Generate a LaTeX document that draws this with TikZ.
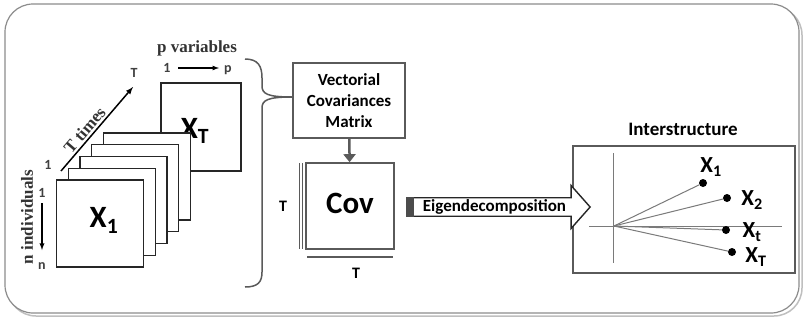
\documentclass[tikz,border=0pt]{standalone}
\usepackage{fontspec}
\setmainfont{Liberation Serif}
\setsansfont{Carlito}
\usepackage{tikz}
\usetikzlibrary{arrows.meta,shapes.arrows}
\definecolor{framegray}{HTML}{8C8C8C}
\definecolor{boxgray}{HTML}{5A5A5A}
\definecolor{axisgray}{HTML}{7A7A7A}

\begin{document}
\begin{tikzpicture}[x=1pt, y=-1pt, >=latex,
  frame/.style={draw=black!85, line width=1.4pt, fill=white, minimum width=87pt, minimum height=87pt, inner sep=0pt},
  box/.style={draw=boxgray, line width=1.6pt, fill=white, align=center, inner sep=0pt},
  small/.style={font=\sffamily\bfseries\fontsize{14}{16}\selectfont, text=black!75},
  serif/.style={font=\bfseries\fontsize{17}{20}\selectfont, text=black!80},
  big/.style={font=\sffamily\bfseries\fontsize{31}{34}\selectfont},
  pt/.style={circle, fill=black, inner sep=0pt, minimum size=8pt},
  xlab/.style={font=\sffamily\bfseries\fontsize{23}{26}\selectfont, inner sep=0pt}]
\useasboundingbox (0,0) rectangle (807,322);

% outer panel
\draw[rounded corners=28pt, black!25, line width=1.5pt] (8,7) rectangle (802,316);
\draw[rounded corners=28pt, framegray, line width=1.2pt, fill=white] (5,4) rectangle (799,313);

% stack of matrices
\node[frame, minimum width=80pt, minimum height=88pt] (xT) at (201,127) {};
\node[big] at ([xshift=-6pt,yshift=-4pt]xT.center) {X\textsubscript{T}};
\foreach \i in {4,3,2,1}
  \node[frame] (f\i) at ({100+11.75*\i},{223.5-11.75*\i}) {};
\node[frame] (x1) at (100,223.5) {};
\node[big] at ([xshift=4pt,yshift=3pt]x1.center) {X\textsubscript{1}};

% axes of the cube
\node[small] (n1) at (42,193) {1};
\node[small] (nn) at (42,266) {n};
\coordinate (ntop) at (42,203);
\coordinate (nbot) at (42,250);
\draw[->, line width=1.3pt] (ntop) -- (nbot);
\node[serif, rotate=90] (nind) at (27,217) {n individuals};

\node[small] (t1) at (48,165) {1};
\node[small] (tT) at (134,73) {T};
\coordinate (tstart) at (61,171);
\coordinate (tend) at (133,87);
\draw[->, line width=1.5pt] (tstart) -- node[serif, sloped, above, pos=0.42, inner sep=2pt] {T times} (tend);

\node[serif] (pvar) at (197,48) {p variables};
\node[small] (p1) at (167,68) {1};
\node[small] (pp) at (228,70) {p};
\coordinate (pstart) at (178,68);
\coordinate (pend) at (219,68);
\draw[->, line width=1.2pt] (pstart) -- (pend);

% covariance
\node[box, minimum width=112pt, minimum height=75pt,
  font=\sffamily\bfseries\fontsize{17}{21}\selectfont] (vcm) at (349,100.5) {Vectorial\\Covariances\\Matrix};
\coordinate (tip) at (292,97);
\draw[boxgray, line width=1.5pt] (245,59) .. controls (258,59) and (262,66) .. (262,78) -- (262,86)
  .. controls (262,94) and (268,97) .. (tip);
\draw[boxgray, line width=1.5pt] (tip) .. controls (268,97) and (262,100) .. (262,108) -- (262,272)
  .. controls (262,282) and (258,287) .. (245,287);

\node[box, minimum width=88pt, minimum height=86pt, font=\sffamily\bfseries\fontsize{31}{34}\selectfont] (cov) at (350,206) {};
\node[font=\sffamily\bfseries\fontsize{31}{34}\selectfont] at ([yshift=3pt]cov.center) {Cov};
\draw[-{Triangle[width=12pt,length=8pt]}, boxgray, line width=2.5pt] (vcm) -- (cov);

\draw[boxgray, line width=0.9pt] (299,163) -- (299,249) (302.5,163) -- (302.5,249);
\draw[boxgray, line width=2.4pt] (307,257) -- (393,257);
\node[font=\sffamily\bfseries\fontsize{16}{18}\selectfont] (tl) at (283,206) {T};
\node[font=\sffamily\bfseries\fontsize{16}{18}\selectfont] (tb) at (356,273) {T};

% interstructure
\node[box, minimum width=222pt, minimum height=127pt] (inter) at (684,209.5) {};
\node[font=\sffamily\bfseries\fontsize{19}{22}\selectfont] (title) at (683,129) {Interstructure};
\coordinate (o) at (614,226);
\coordinate (vtop) at (613,153);
\coordinate (vbot) at (613,263);
\coordinate (hl) at (589,226);
\coordinate (hr) at (782,226);
\draw[axisgray, line width=0.9pt] (vtop) -- (vbot) (hl) -- (hr);

\node[pt] (d1) at (703,183) {};
\node[pt] (d2) at (727,198) {};
\node[pt] (dt) at (726,230) {};
\node[pt] (dT) at (732,252) {};
\foreach \d in {d1,d2,dt,dT}
  \draw[axisgray, line width=1pt] (o) -- (\d);
\node[xlab] at (711,167) {X\textsubscript{1}};
\node[xlab] at (752,200) {X\textsubscript{2}};
\node[xlab] at (752,232) {X\textsubscript{t}};
\node[xlab] at (756,257) {X\textsubscript{T}};

% eigendecomposition
\node[single arrow, draw=black!85, line width=1.4pt, fill=white, minimum height=183pt, minimum width=43pt,
  single arrow head extend=12pt, single arrow tip angle=97, inner sep=1pt,
  font=\sffamily\bfseries\fontsize{17}{19}\selectfont] (eig) at (494.5,207) {Eigendecomposition};
\fill[black!70] (eig.before tail) rectangle ([xshift=8pt]eig.after tail);
\end{tikzpicture}
\end{document}
